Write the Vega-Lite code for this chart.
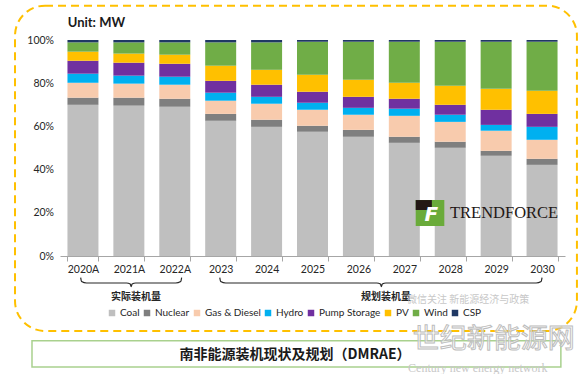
{
  "$schema": "https://vega.github.io/schema/vega-lite/v6.json",
  "width": 505,
  "height": 216,
  "autosize": {"type": "none"},
  "padding": {"left": 60, "top": 40, "right": 20, "bottom": 118},
  "background": "white",
  "config": {
    "view": {"stroke": null},
    "axis": {"labelFont": "Lato", "labelFontSize": 10.5, "labelColor": "#262626", "grid": false, "title": null},
    "legend": {"labelFont": "Lato", "labelFontSize": 10, "labelColor": "#262626"}
  },
  "resolve": {"scale": {"x": "independent", "y": "independent"}},
  "layer": [
    {
      "data": {"values": [
        {"year": "2020A", "Coal": 70.0, "Nuclear": 3.3, "Gas & Diesel": 6.9, "Hydro": 4.2, "Pump Storage": 6.0, "PV": 4.2, "Wind": 4.3, "CSP": 1.1},
        {"year": "2021A", "Coal": 69.6, "Nuclear": 3.7, "Gas & Diesel": 6.5, "Hydro": 3.7, "Pump Storage": 6.0, "PV": 4.2, "Wind": 5.2, "CSP": 1.1},
        {"year": "2022A", "Coal": 69.1, "Nuclear": 3.7, "Gas & Diesel": 6.5, "Hydro": 3.7, "Pump Storage": 6.0, "PV": 4.2, "Wind": 5.7, "CSP": 1.1},
        {"year": "2023", "Coal": 62.6, "Nuclear": 3.2, "Gas & Diesel": 6.1, "Hydro": 3.7, "Pump Storage": 5.5, "PV": 7.0, "Wind": 10.8, "CSP": 1.1},
        {"year": "2024", "Coal": 59.8, "Nuclear": 3.3, "Gas & Diesel": 7.4, "Hydro": 3.2, "Pump Storage": 5.6, "PV": 6.9, "Wind": 12.7, "CSP": 1.1},
        {"year": "2025", "Coal": 57.5, "Nuclear": 2.8, "Gas & Diesel": 7.4, "Hydro": 3.2, "Pump Storage": 5.1, "PV": 7.9, "Wind": 15.3, "CSP": 0.8},
        {"year": "2026", "Coal": 55.2, "Nuclear": 3.2, "Gas & Diesel": 7.0, "Hydro": 3.2, "Pump Storage": 5.1, "PV": 7.9, "Wind": 17.6, "CSP": 0.8},
        {"year": "2027", "Coal": 52.4, "Nuclear": 2.8, "Gas & Diesel": 9.7, "Hydro": 3.3, "Pump Storage": 4.6, "PV": 7.4, "Wind": 19.0, "CSP": 0.8},
        {"year": "2028", "Coal": 50.1, "Nuclear": 2.8, "Gas & Diesel": 9.2, "Hydro": 3.3, "Pump Storage": 4.6, "PV": 8.8, "Wind": 20.4, "CSP": 0.8},
        {"year": "2029", "Coal": 46.4, "Nuclear": 2.3, "Gas & Diesel": 9.3, "Hydro": 2.7, "Pump Storage": 7.0, "PV": 9.7, "Wind": 21.8, "CSP": 0.8},
        {"year": "2030", "Coal": 42.2, "Nuclear": 2.8, "Gas & Diesel": 8.8, "Hydro": 6.0, "Pump Storage": 6.0, "PV": 10.7, "Wind": 22.7, "CSP": 0.8}
      ]},
      "transform": [
        {"fold": ["Coal", "Nuclear", "Gas & Diesel", "Hydro", "Pump Storage", "PV", "Wind", "CSP"], "as": ["source", "share"]},
        {"window": [{"op": "row_number", "as": "stack_rank"}], "groupby": ["year"]}
      ],
      "mark": {"type": "bar"},
      "encoding": {
        "x": {"field": "year", "type": "ordinal", "sort": null,
              "scale": {"paddingInner": 0.325, "paddingOuter": 0.1625},
              "axis": {"labelAngle": 0, "domainColor": "#A6A6A6", "tickColor": "#A6A6A6", "tickSize": 5, "tickBand": "extent", "labelPadding": 3}},
        "y": {"field": "share", "type": "quantitative", "stack": "normalize",
              "scale": {"domain": [0, 1], "nice": false},
              "axis": {"format": ".0%", "values": [0, 0.2, 0.4, 0.6, 0.8, 1], "domain": false, "ticks": false, "tickSize": 0, "labelPadding": 6.5}},
        "order": {"field": "stack_rank", "type": "quantitative", "sort": "ascending"},
        "color": {"field": "source", "type": "nominal",
                  "scale": {"domain": ["Coal", "Nuclear", "Gas & Diesel", "Hydro", "Pump Storage", "PV", "Wind", "CSP"],
                            "range": ["#BFBFBF", "#7F7F7F", "#F8CBAD", "#00B0F0", "#7030A0", "#FFC000", "#70AD47", "#203864"]},
                  "legend": {"title": null, "orient": "none", "direction": "horizontal", "legendX": 47, "legendY": 268, "padding": 0,
                             "symbolType": "square", "symbolSize": 42, "symbolStrokeWidth": 0, "labelOffset": 3, "columnPadding": 2}}
      }
    },
    {
      "data": {"values": [{"frame": "outline"}]},
      "mark": {"type": "rect", "fill": null, "fillOpacity": 0, "stroke": "#FFC000", "strokeWidth": 2, "strokeDash": [8, 5], "cornerRadius": 30},
      "encoding": {
        "x": {"datum": -0.98, "type": "quantitative", "scale": {"domain": [0, 11], "nice": false, "zero": false}, "axis": null},
        "x2": {"datum": 11.26},
        "y": {"datum": 1.159, "type": "quantitative", "scale": {"domain": [0, 1], "nice": false, "zero": false}, "axis": null},
        "y2": {"datum": -0.347}
      }
    },
    {
      "data": {"values": [{"note": "Unit: MW"}]},
      "mark": {"type": "text", "align": "left", "baseline": "middle", "font": "Lato", "fontSize": 13, "fontWeight": "bold", "color": "#1a1a1a"},
      "encoding": {
        "x": {"datum": 0.168, "type": "quantitative", "scale": {"domain": [0, 11], "nice": false, "zero": false}, "axis": null},
        "y": {"datum": 1.077, "type": "quantitative", "scale": {"domain": [0, 1], "nice": false, "zero": false}, "axis": null},
        "text": {"field": "note"}
      }
    },
    {
      "data": {"values": [
        {"brace": "实际装机量", "u": 0.45, "s": -0.100},
        {"brace": "实际装机量", "u": 0.47, "s": -0.118},
        {"brace": "实际装机量", "u": 0.58, "s": -0.125},
        {"brace": "实际装机量", "u": 1.45, "s": -0.125},
        {"brace": "实际装机量", "u": 1.53, "s": -0.130},
        {"brace": "实际装机量", "u": 1.55, "s": -0.142},
        {"brace": "实际装机量", "u": 1.57, "s": -0.130},
        {"brace": "实际装机量", "u": 1.65, "s": -0.125},
        {"brace": "实际装机量", "u": 2.52, "s": -0.125},
        {"brace": "实际装机量", "u": 2.63, "s": -0.118},
        {"brace": "实际装机量", "u": 2.65, "s": -0.100},
        {"brace": "规划装机量", "u": 3.48, "s": -0.100},
        {"brace": "规划装机量", "u": 3.50, "s": -0.118},
        {"brace": "规划装机量", "u": 3.61, "s": -0.125},
        {"brace": "规划装机量", "u": 6.90, "s": -0.125},
        {"brace": "规划装机量", "u": 6.98, "s": -0.130},
        {"brace": "规划装机量", "u": 7.00, "s": -0.142},
        {"brace": "规划装机量", "u": 7.02, "s": -0.130},
        {"brace": "规划装机量", "u": 7.10, "s": -0.125},
        {"brace": "规划装机量", "u": 10.37, "s": -0.125},
        {"brace": "规划装机量", "u": 10.48, "s": -0.118},
        {"brace": "规划装机量", "u": 10.50, "s": -0.100}
      ]},
      "mark": {"type": "line", "interpolate": "monotone", "color": "#262626", "strokeWidth": 1.2},
      "encoding": {
        "x": {"field": "u", "type": "quantitative", "scale": {"domain": [0, 11], "nice": false, "zero": false}, "axis": null},
        "y": {"field": "s", "type": "quantitative", "scale": {"domain": [0, 1], "nice": false, "zero": false}, "axis": null},
        "detail": {"field": "brace"}
      }
    },
    {
      "data": {"values": [{"label": "实际装机量"}]},
      "mark": {"type": "text", "align": "center", "baseline": "middle", "font": "Noto Sans CJK SC", "fontSize": 10, "fontWeight": "bold", "color": "#262626"},
      "encoding": {
        "x": {"datum": 1.655, "type": "quantitative", "scale": {"domain": [0, 11], "nice": false, "zero": false}, "axis": null},
        "y": {"datum": -0.19, "type": "quantitative", "scale": {"domain": [0, 1], "nice": false, "zero": false}, "axis": null},
        "text": {"field": "label"}
      }
    },
    {
      "data": {"values": [{"label": "规划装机量"}]},
      "mark": {"type": "text", "align": "center", "baseline": "middle", "font": "Noto Sans CJK SC", "fontSize": 10, "fontWeight": "bold", "color": "#262626"},
      "encoding": {
        "x": {"datum": 7.10, "type": "quantitative", "scale": {"domain": [0, 11], "nice": false, "zero": false}, "axis": null},
        "y": {"datum": -0.19, "type": "quantitative", "scale": {"domain": [0, 1], "nice": false, "zero": false}, "axis": null},
        "text": {"field": "label"}
      }
    },
    {
      "data": {"values": [{"logo": "green"}]},
      "mark": {"type": "rect", "color": "#6AAB3A"},
      "encoding": {
        "x": {"datum": 7.748, "type": "quantitative", "scale": {"domain": [0, 11], "nice": false, "zero": false}, "axis": null},
        "x2": {"datum": 8.371},
        "y": {"datum": 0.259, "type": "quantitative", "scale": {"domain": [0, 1], "nice": false, "zero": false}, "axis": null},
        "y2": {"datum": 0.139}
      }
    },
    {
      "data": {"values": [{"logo": "black"}]},
      "mark": {"type": "rect", "color": "#231815"},
      "encoding": {
        "x": {"datum": 7.748, "type": "quantitative", "scale": {"domain": [0, 11], "nice": false, "zero": false}, "axis": null},
        "x2": {"datum": 8.10},
        "y": {"datum": 0.259, "type": "quantitative", "scale": {"domain": [0, 1], "nice": false, "zero": false}, "axis": null},
        "y2": {"datum": 0.213}
      }
    },
    {
      "data": {"values": [{"logo": "F"}]},
      "mark": {"type": "text", "align": "center", "baseline": "middle", "font": "DejaVu Sans", "fontSize": 20, "fontWeight": "bold", "fontStyle": "italic", "color": "white"},
      "encoding": {
        "x": {"datum": 8.09, "type": "quantitative", "scale": {"domain": [0, 11], "nice": false, "zero": false}, "axis": null},
        "y": {"datum": 0.19, "type": "quantitative", "scale": {"domain": [0, 1], "nice": false, "zero": false}, "axis": null},
        "text": {"field": "logo"}
      }
    },
    {
      "data": {"values": [{"brand": "TRENDFORCE"}]},
      "mark": {"type": "text", "align": "left", "baseline": "middle", "font": "Liberation Serif", "fontSize": 16.5, "color": "#231815"},
      "encoding": {
        "x": {"datum": 8.495, "type": "quantitative", "scale": {"domain": [0, 11], "nice": false, "zero": false}, "axis": null},
        "y": {"datum": 0.200, "type": "quantitative", "scale": {"domain": [0, 1], "nice": false, "zero": false}, "axis": null},
        "text": {"field": "brand"}
      }
    },
    {
      "data": {"values": [{"caption": "南非能源装机现状及规划（DMRAE）"}]},
      "mark": {"type": "rect", "fill": null, "fillOpacity": 0, "stroke": "#A9D18E", "strokeWidth": 1.5},
      "encoding": {
        "x": {"datum": -0.61, "type": "quantitative", "scale": {"domain": [0, 11], "nice": false, "zero": false}, "axis": null},
        "x2": {"datum": 10.91},
        "y": {"datum": -0.392, "type": "quantitative", "scale": {"domain": [0, 1], "nice": false, "zero": false}, "axis": null},
        "y2": {"datum": -0.514}
      }
    },
    {
      "data": {"values": [{"caption": "南非能源装机现状及规划（DMRAE）"}]},
      "mark": {"type": "text", "align": "center", "baseline": "middle", "font": "Noto Sans CJK SC", "fontSize": 14, "fontWeight": "bold", "color": "#1a1a1a"},
      "encoding": {
        "x": {"datum": 5.12, "type": "quantitative", "scale": {"domain": [0, 11], "nice": false, "zero": false}, "axis": null},
        "y": {"datum": -0.458, "type": "quantitative", "scale": {"domain": [0, 1], "nice": false, "zero": false}, "axis": null},
        "text": {"field": "caption"}
      }
    },
    {
      "data": {"values": [{"mark": "微信关注 新能源经济与政策"}]},
      "mark": {"type": "text", "align": "center", "baseline": "middle", "font": "Noto Sans CJK SC", "fontSize": 10, "color": "#C8C8C8"},
      "encoding": {
        "x": {"datum": 8.89, "type": "quantitative", "scale": {"domain": [0, 11], "nice": false, "zero": false}, "axis": null},
        "y": {"datum": -0.205, "type": "quantitative", "scale": {"domain": [0, 1], "nice": false, "zero": false}, "axis": null},
        "text": {"field": "mark"}
      }
    },
    {
      "data": {"values": [{"mark": "世纪新能源网"}]},
      "mark": {"type": "text", "align": "center", "baseline": "middle", "font": "Noto Sans CJK SC", "fontSize": 27, "fill": "#FFFFFF", "fillOpacity": 0.6, "stroke": "#BDBDBD", "strokeWidth": 1},
      "encoding": {
        "x": {"datum": 9.45, "type": "quantitative", "scale": {"domain": [0, 11], "nice": false, "zero": false}, "axis": null},
        "y": {"datum": -0.389, "type": "quantitative", "scale": {"domain": [0, 1], "nice": false, "zero": false}, "axis": null},
        "text": {"field": "mark"}
      }
    },
    {
      "data": {"values": [{"mark": "Century new energy network"}]},
      "mark": {"type": "text", "align": "center", "baseline": "middle", "font": "Liberation Serif", "fontSize": 12, "color": "#C8C8C8"},
      "encoding": {
        "x": {"datum": 9.1, "type": "quantitative", "scale": {"domain": [0, 11], "nice": false, "zero": false}, "axis": null},
        "y": {"datum": -0.52, "type": "quantitative", "scale": {"domain": [0, 1], "nice": false, "zero": false}, "axis": null},
        "text": {"field": "mark"}
      }
    }
  ]
}
